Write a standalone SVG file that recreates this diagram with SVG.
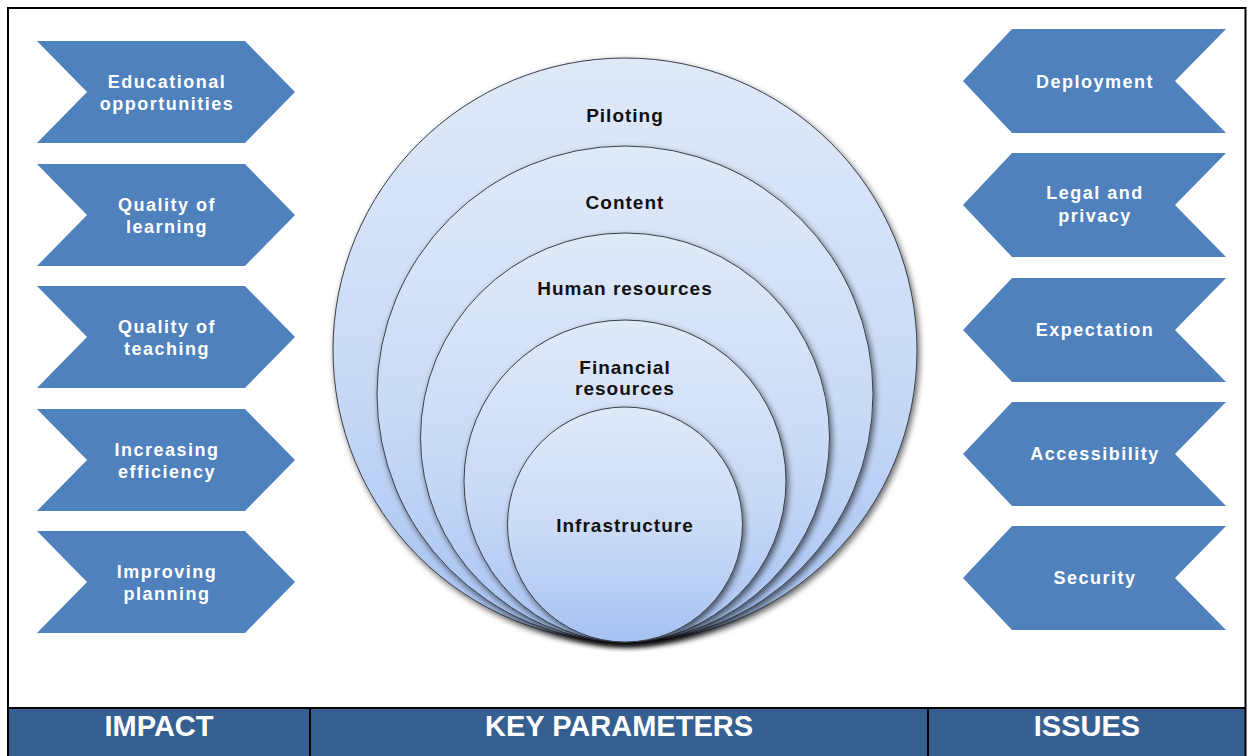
<svg xmlns="http://www.w3.org/2000/svg" width="1248" height="756" viewBox="0 0 1248 756">
  <defs>
    <linearGradient id="ringFill" x1="0" y1="0" x2="0" y2="1">
      <stop offset="0" stop-color="#e0e9f9"/>
      <stop offset="0.55" stop-color="#c9daf6"/>
      <stop offset="1" stop-color="#a6c2f2"/>
    </linearGradient>
    <filter id="ringShadow" x="-10%" y="-10%" width="120%" height="125%">
      <feGaussianBlur in="SourceAlpha" stdDeviation="3"/>
      <feOffset dx="2" dy="3" result="blur"/>
      <feComponentTransfer>
        <feFuncA type="linear" slope="0.6"/>
      </feComponentTransfer>
      <feMerge>
        <feMergeNode/>
        <feMergeNode in="SourceGraphic"/>
      </feMerge>
    </filter>
    <path id="chevR" d="M0,0 H208 L258,51 L208,102 H0 L50,51 Z"/>
    <path id="chevL" d="M49,0 H263 L212,52 L263,104 H49 L0,52 Z"/>
  </defs>
  <style>
    .chev { fill: #4f81bd; }
    .chevText { font-family: "Liberation Sans", Arial, sans-serif; font-weight: bold; font-size: 18px; letter-spacing: 1.5px; fill: #ffffff; text-anchor: middle; }
    .ring { fill: url(#ringFill); stroke: #3a3f48; stroke-width: 1; filter: url(#ringShadow); }
    .ringText { font-family: "Liberation Sans", Arial, sans-serif; font-weight: bold; font-size: 19px; letter-spacing: 1px; fill: #111111; text-anchor: middle; }
    .footText { font-family: "Liberation Sans", Arial, sans-serif; font-weight: bold; font-size: 29px; fill: #ffffff; text-anchor: middle; }
    .rule { stroke: #000000; stroke-width: 2; fill: none; }
  </style>

  <rect x="0" y="0" width="1248" height="756" fill="#ffffff"/>

  <!-- footer band with column headings -->
  <g id="footer">
    <rect x="8" y="708" width="1237.5" height="48" fill="#365f91"/>
    <line class="rule" x1="8" y1="708" x2="1245.5" y2="708"/>
    <line class="rule" x1="310" y1="708" x2="310" y2="756"/>
    <line class="rule" x1="928" y1="708" x2="928" y2="756"/>
    <text class="footText" x="159" y="736">IMPACT</text>
    <text class="footText" x="619" y="736">KEY PARAMETERS</text>
    <text class="footText" x="1087" y="736">ISSUES</text>
  </g>

  <!-- frame -->
  <path class="rule" d="M8,756 V8 H1245.5 V756"/>

  <!-- impact chevrons (pointing right) -->
  <g id="impact-educational">
    <use href="#chevR" class="chev" transform="translate(37,41)"/>
    <text class="chevText" x="167" y="88">Educational</text>
    <text class="chevText" x="167" y="110">opportunities</text>
  </g>
  <g id="impact-learning">
    <use href="#chevR" class="chev" transform="translate(37,164)"/>
    <text class="chevText" x="167" y="211">Quality of</text>
    <text class="chevText" x="167" y="233">learning</text>
  </g>
  <g id="impact-teaching">
    <use href="#chevR" class="chev" transform="translate(37,286)"/>
    <text class="chevText" x="167" y="333">Quality of</text>
    <text class="chevText" x="167" y="355">teaching</text>
  </g>
  <g id="impact-efficiency">
    <use href="#chevR" class="chev" transform="translate(37,409)"/>
    <text class="chevText" x="167" y="456">Increasing</text>
    <text class="chevText" x="167" y="478">efficiency</text>
  </g>
  <g id="impact-planning">
    <use href="#chevR" class="chev" transform="translate(37,531)"/>
    <text class="chevText" x="167" y="578">Improving</text>
    <text class="chevText" x="167" y="600">planning</text>
  </g>

  <!-- key parameters: nested circles tangent at the bottom -->
  <g id="param-piloting">
    <circle class="ring" cx="625" cy="350" r="292"/>
    <text class="ringText" x="625" y="122">Piloting</text>
  </g>
  <g id="param-content">
    <circle class="ring" cx="625" cy="394" r="248"/>
    <text class="ringText" x="625" y="209">Content</text>
  </g>
  <g id="param-human">
    <circle class="ring" cx="625" cy="437.5" r="204.5"/>
    <text class="ringText" x="625" y="295">Human resources</text>
  </g>
  <g id="param-financial">
    <circle class="ring" cx="625" cy="481" r="161"/>
    <text class="ringText" x="625" y="374">Financial</text>
    <text class="ringText" x="625" y="395">resources</text>
  </g>
  <g id="param-infrastructure">
    <circle class="ring" cx="625" cy="524.5" r="117.5"/>
    <text class="ringText" x="625" y="532">Infrastructure</text>
  </g>

  <!-- issue chevrons (pointing left) -->
  <g id="issue-deployment">
    <use href="#chevL" class="chev" transform="translate(963,29)"/>
    <text class="chevText" x="1095" y="88">Deployment</text>
  </g>
  <g id="issue-legal">
    <use href="#chevL" class="chev" transform="translate(963,153)"/>
    <text class="chevText" x="1095" y="199">Legal and</text>
    <text class="chevText" x="1095" y="222">privacy</text>
  </g>
  <g id="issue-expectation">
    <use href="#chevL" class="chev" transform="translate(963,278)"/>
    <text class="chevText" x="1095" y="336">Expectation</text>
  </g>
  <g id="issue-accessibility">
    <use href="#chevL" class="chev" transform="translate(963,402)"/>
    <text class="chevText" x="1095" y="460">Accessibility</text>
  </g>
  <g id="issue-security">
    <use href="#chevL" class="chev" transform="translate(963,526)"/>
    <text class="chevText" x="1095" y="584">Security</text>
  </g>

  <!-- no connectors in this layout -->
  <g id="connectors"/>
</svg>
